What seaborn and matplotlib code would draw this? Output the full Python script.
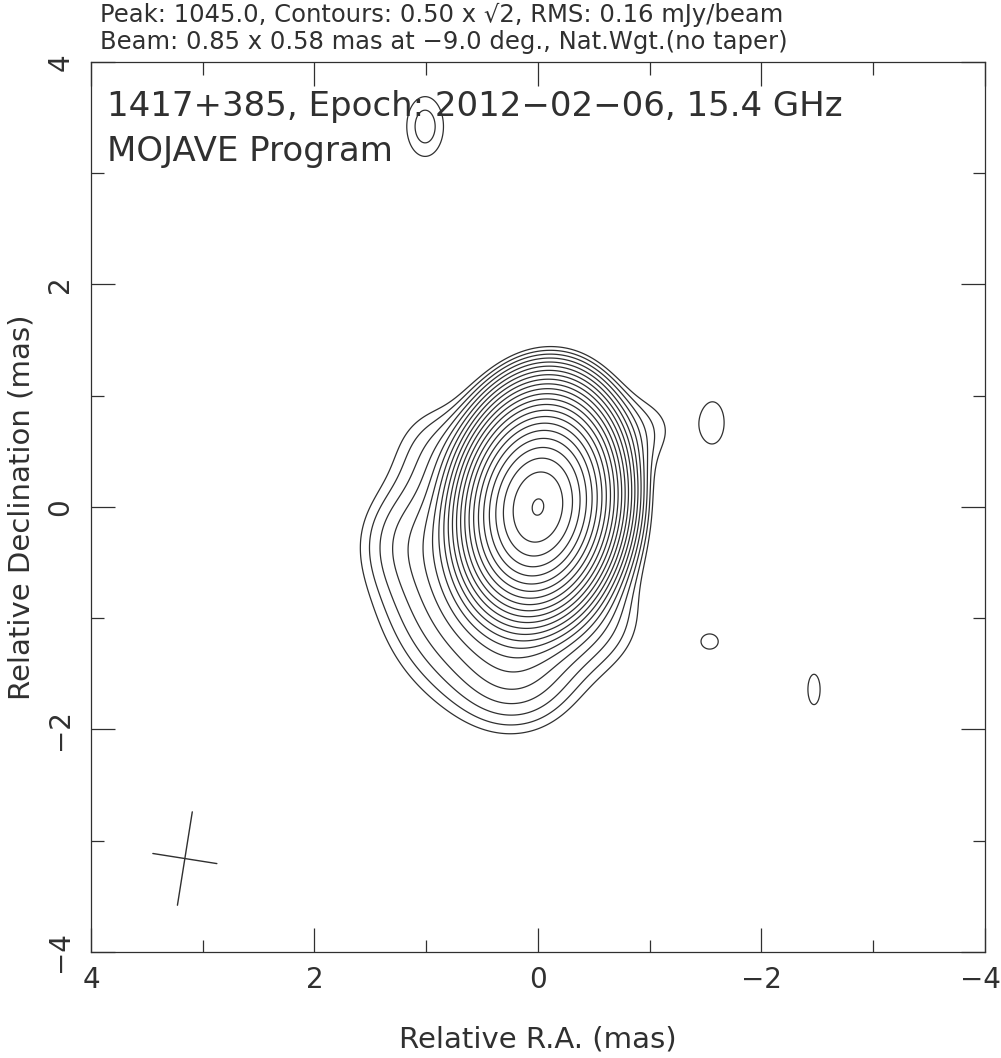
"""
MOJAVE 15 GHz VLBA total intensity contour map of 1417+385.
"""

import numpy as np
import matplotlib
matplotlib.use("Agg")
import matplotlib.pyplot as plt
import matplotlib.transforms as mtransforms
import seaborn as sns

# Map header values
peak_flux = 1045.0          # mJy/beam
base_contour = 0.50         # mJy/beam
contour_step = np.sqrt(2)
n_levels = 23
beam_major = 0.85           # mas
beam_minor = 0.58           # mas
beam_pa = -9.0              # deg
beam_center = (3.16, -3.16)

# Gaussian components of the clean image (x = relative RA, y = relative Dec, mas)
comp_x = [0.0, 0.35, 0.20, 0.90, 1.15, -0.95, -0.55, 1.01, -1.57, -1.54, -2.47]
comp_y = [0.0, -0.55, -1.50, 0.55, -0.30, 0.70, -1.05, 3.42, 0.76, -1.21, -1.64]
comp_flux = [1042.0, 4.6, 1.0, 0.45, 0.55, 0.6, 0.45, 0.82, 0.60, 0.53, 0.53]
comp_smaj = [0.37, 0.64, 0.30, 0.28, 0.30, 0.25, 0.28, 0.27, 0.28, 0.18, 0.40]
comp_smin = [0.255, 0.54, 0.30, 0.28, 0.30, 0.25, 0.28, 0.165, 0.15, 0.20, 0.16]
comp_pa = [-9.0, 0.0, 0.0, 0.0, 0.0, 0.0, 0.0, 0.0, 0.0, 0.0, 0.0]

x_ticks = [4, 2, 0, -2, -4]
y_ticks = [-4, -2, 0, 2, 4]

title_line1 = "Peak: 1045.0, Contours: 0.50 x \u221a2, RMS: 0.16 mJy/beam"
title_line2 = "Beam: 0.85 x 0.58 mas at \u22129.0 deg., Nat.Wgt.(no taper)"
source_line1 = "1417+385, Epoch: 2012\u221202\u221206, 15.4 GHz"
source_line2 = "MOJAVE Program"


def build_image(xx, yy):
    image = np.zeros_like(xx)
    for x0, y0, flux, smaj, smin, pa in zip(comp_x, comp_y, comp_flux,
                                            comp_smaj, comp_smin, comp_pa):
        phi = np.radians(pa)
        dx = xx - x0
        dy = yy - y0
        a = dx * np.sin(phi) + dy * np.cos(phi)
        b = dx * np.cos(phi) - dy * np.sin(phi)
        image += flux * np.exp(-0.5 * (a ** 2 / smaj ** 2 + b ** 2 / smin ** 2))
    return image


def main():
    sns.set_theme(style="white")
    plt.rcParams["font.family"] = ["DejaVu Sans"]
    ink = "#303030"

    fig = plt.figure(figsize=(10.01, 10.58), dpi=100)
    ax = fig.add_axes([0.0909, 0.1002, 0.8931, 0.8412])

    grid = np.linspace(-4, 4, 801)
    xx, yy = np.meshgrid(grid, grid)
    image = build_image(xx, yy)
    levels = base_contour * contour_step ** np.arange(n_levels)
    ax.contour(xx, yy, image, levels=levels, colors=ink, linewidths=0.9)

    # beam cross
    phi = np.radians(beam_pa)
    cx, cy = beam_center
    ax.plot([cx - 0.5 * beam_major * np.sin(phi), cx + 0.5 * beam_major * np.sin(phi)],
            [cy - 0.5 * beam_major * np.cos(phi), cy + 0.5 * beam_major * np.cos(phi)],
            color=ink, lw=1.0)
    ax.plot([cx - 0.5 * beam_minor * np.cos(phi), cx + 0.5 * beam_minor * np.cos(phi)],
            [cy + 0.5 * beam_minor * np.sin(phi), cy - 0.5 * beam_minor * np.sin(phi)],
            color=ink, lw=1.0)

    ax.set_xlim(4, -4)
    ax.set_ylim(-4, 4)
    ax.set_xticks(x_ticks)
    ax.set_yticks(y_ticks)
    ax.set_xticks(np.arange(-3, 4, 2), minor=True)
    ax.set_yticks(np.arange(-3, 4, 2), minor=True)
    ax.tick_params(which="both", direction="in", top=True, right=True,
                   bottom=True, left=True, color=ink, width=0.9,
                   labelsize=20, labelcolor=ink)
    ax.tick_params(which="major", length=17)
    ax.tick_params(which="minor", length=9)
    ax.tick_params(axis="x", pad=10)
    ax.tick_params(axis="y", pad=12)
    for label in ax.get_yticklabels():
        label.set_rotation(90)
        label.set_va("center")
    # keep the last R.A. label inside the canvas
    last = ax.get_xticklabels()[-1]
    last.set_transform(last.get_transform()
                       + mtransforms.ScaledTranslation(-3 / 72, 0, fig.dpi_scale_trans))
    for spine in ax.spines.values():
        spine.set_color(ink)
        spine.set_linewidth(0.9)

    ax.set_xlabel("Relative R.A. (mas)", fontsize=21, color=ink)
    ax.set_ylabel("Relative Declination (mas)", fontsize=21, color=ink)
    ax.xaxis.set_label_coords(0.5, -0.083)
    ax.yaxis.set_label_coords(-0.062, 0.5)

    fig.text(0.1, 1 - 15 / 1058, title_line1, fontsize=17.5, color=ink, va="center")
    fig.text(0.1, 1 - 42 / 1058, title_line2, fontsize=17.5, color=ink, va="center")
    ax.text(0.018, 0.95, source_line1, transform=ax.transAxes, fontsize=24.5,
            color=ink, va="center")
    ax.text(0.018, 0.899, source_line2, transform=ax.transAxes, fontsize=24.5,
            color=ink, va="center")

    fig.savefig("out.png", dpi=100)


if __name__ == "__main__":
    main()
